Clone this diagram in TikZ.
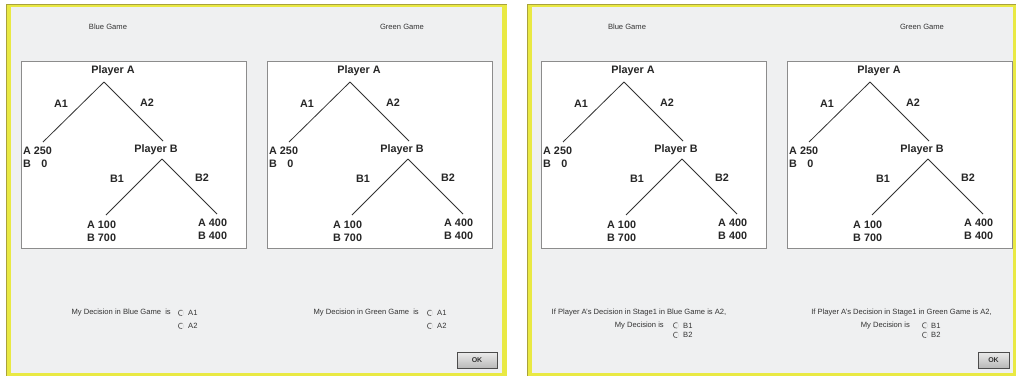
\documentclass[tikz,border=0pt]{standalone}
\usepackage{fontspec}
\setmainfont{Liberation Sans}
\definecolor{panelbg}{HTML}{EFF0F1}
\definecolor{ybord}{HTML}{E9E943}
\definecolor{yolive}{HTML}{A9A23C}
\definecolor{boxline}{HTML}{8C8C8C}
\definecolor{txtgray}{HTML}{333333}
\tikzset{
  gbox/.style={draw=boxline, fill=white, line width=0.8pt, minimum width=225pt, minimum height=187pt, inner sep=0pt, anchor=north west},
  plab/.style={font=\fontsize{10.8}{13}\selectfont\bfseries, inner sep=0pt, text=black!85},
  pay/.style={plab, align=left, anchor=west},
  edge/.style={line width=0.8pt, black!80},
  small/.style={font=\fontsize{7.6}{9}\selectfont, inner sep=0pt, text=txtgray},
  radio/.style={circle, draw=black!15, line width=0.4pt, minimum size=5.6pt, inner sep=0pt},
  radioarc/.style={draw=black!60, line width=0.7pt},
  okbtn/.style={draw=black!70, line width=0.9pt, top color=black!8, bottom color=black!28, inner sep=0pt, font=\fontsize{7}{8}\selectfont\bfseries, text=black!80},
}
\newcommand\gtree[3]{%
\begin{scope}[shift={(#2,#3)}]
  \node[gbox] (#1box) at (0,0) {};
  \node[plab] (#1pa) at (92,10) {Player A};
  \coordinate (#1top) at (83,21);
  \coordinate (#1lend) at (22,81);
  \coordinate (#1rend) at (142,80);
  \draw[edge] (#1top) -- (#1lend);
  \draw[edge] (#1top) -- (#1rend);
  \node[plab] (#1la1) at (40,43) {A1};
  \node[plab] (#1la2) at (126,42) {A2};
  \node[pay] (#1p1) at (2,96.5) {A 250\\B\hspace{10.3pt}0};
  \node[plab] (#1pb) at (135,89) {Player B};
  \coordinate (#1btop) at (141,98);
  \coordinate (#1blend) at (85,154);
  \coordinate (#1brend) at (196,153);
  \draw[edge] (#1btop) -- (#1blend);
  \draw[edge] (#1btop) -- (#1brend);
  \node[plab] (#1lb1) at (96,118) {B1};
  \node[plab] (#1lb2) at (181,117) {B2};
  \node[pay] (#1p2) at (66,170.5) {A 100\\B 700};
  \node[pay] (#1p3) at (177,168.5) {A 400\\B 400};
\end{scope}}
\newcommand\rbtn[3]{%
  \node[radio] (#1) at (#2,#3) {};
  \draw[radioarc] (#1.60) arc[start angle=60, end angle=290, radius=2.8pt];
}
\begin{document}
\begin{tikzpicture}[x=1pt,y=-1pt]
\useasboundingbox (0,0) rectangle (1016,376);
\fill[white] (0,0) rectangle (1016,376);
% screenshot frames
\fill[ybord] (6,3.5) rectangle (507,376);
\fill[panelbg] (10.5,7) rectangle (502,373);
\draw[yolive, line width=1pt] (6,4) -- (507,4);
\draw[yolive, line width=0.8pt] (6.4,4) -- (6.4,376);
\fill[ybord] (527,3.5) rectangle (1016,376);
\fill[panelbg] (531.5,7) rectangle (1013,373);
\draw[yolive, line width=1pt] (527,4) -- (1016,4);
\draw[yolive, line width=0.8pt] (527.4,4) -- (527.4,376);
% titles
\node[small] (t1) at (108,27) {Blue Game};
\node[small] (t2) at (402,27) {Green Game};
\node[small] (t3) at (627,27) {Blue Game};
\node[small] (t4) at (922,27) {Green Game};
% trees
\gtree{a}{21}{61}
\gtree{b}{267}{61}
\gtree{c}{541}{61}
\gtree{d}{787}{61}
% left bottom
\node[small, anchor=east] (q1) at (171,313) {My Decision in Blue Game \ is};
\rbtn{r1}{181}{313}
\rbtn{r2}{181}{326}
\node[small, anchor=west] (o1) at (188,313) {A1};
\node[small, anchor=west] (o2) at (188,326) {A2};
\node[small, anchor=east] (q2) at (419,313) {My Decision in Green Game \ is};
\rbtn{r3}{430}{313}
\rbtn{r4}{430}{326}
\node[small, anchor=west] (o3) at (437,313) {A1};
\node[small, anchor=west] (o4) at (437,326) {A2};
\node[okbtn, minimum width=40pt, minimum height=16pt] (ok1) at (477,360.5) {OK};
% right bottom
\node[small] (q3) at (639,313) {If Player A's Decision in Stage1 in Blue Game is A2,};
\node[small, anchor=east] (q4) at (664,325.5) {My Decision is};
\rbtn{r5}{676}{325.5}
\rbtn{r6}{676}{335}
\node[small, anchor=west] (o5) at (683,325.5) {B1};
\node[small, anchor=west] (o6) at (683,335) {B2};
\node[small] (q5) at (901.5,313) {If Player A's Decision in Stage1 in Green Game is A2,};
\node[small, anchor=east] (q6) at (910,325.5) {My Decision is};
\rbtn{r7}{925}{325.5}
\rbtn{r8}{925}{335}
\node[small, anchor=west] (o7) at (931,325.5) {B1};
\node[small, anchor=west] (o8) at (931,335) {B2};
\node[okbtn, minimum width=31pt, minimum height=16pt] (ok2) at (993.5,360) {OK};
\end{tikzpicture}
\end{document}
